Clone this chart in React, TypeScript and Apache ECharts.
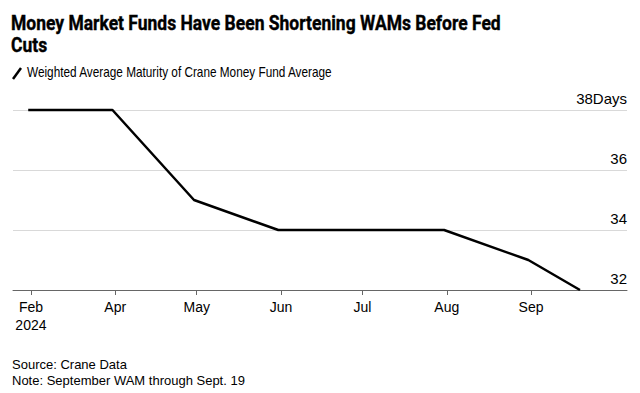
import React, { useEffect, useRef } from "react";
import * as echarts from "echarts";

const dates = ["2024-02-29", "2024-03-31", "2024-04-30", "2024-05-31", "2024-06-30", "2024-07-31", "2024-08-31", "2024-09-19"];
const values = [38, 38, 35, 34, 34, 34, 33, 32];
const tickDates = ["2024-03-01", "2024-04-01", "2024-05-01", "2024-06-01", "2024-07-01", "2024-08-01", "2024-09-01"];
const tickLabels = ["Feb\n2024", "Apr", "May", "Jun", "Jul", "Aug", "Sep"];
const yTicks = [32, 34, 36, 38];

const titleLines = ["Money Market Funds Have Been Shortening WAMs Before Fed", "Cuts"];
const subtitleText = "Weighted Average Maturity of Crane Money Fund Average";
const sourceText = "Source: Crane Data";
const noteText = "Note: September WAM through Sept. 19";

const FONT = "'Liberation Sans', Arial, sans-serif";
const TFONT = "Roboto, 'Liberation Sans', sans-serif";

function ts(s: string): number {
  const [y, m, d] = s.split("-").map(Number);
  return Date.UTC(y, m - 1, d);
}

function measure(text: string, font: string): number {
  const c = document.createElement("canvas").getContext("2d");
  if (!c) return 1;
  c.font = font;
  return c.measureText(text).width || 1;
}

export default function App() {
  const ref = useRef<HTMLDivElement>(null);
  useEffect(() => {
    if (!ref.current) return;
    const chart = echarts.init(ref.current, null, { renderer: "svg" });
    const tickTimes = tickDates.map(ts);
    const day = 86400000;
    const xMin = tickTimes[0] - 6.6 * day;
    const xMax = tickTimes[tickTimes.length - 1] + 35.3 * day;
    const labelFor = (v: number) => {
      let best = 0;
      for (let i = 1; i < tickTimes.length; i++) {
        if (Math.abs(tickTimes[i] - v) < Math.abs(tickTimes[best] - v)) best = i;
      }
      return tickLabels[best];
    };
    const titleFont = `bold 21px ${TFONT}`;
    const subFont = `15px ${FONT}`;
    const titleScale = Math.min(1, 490 / measure(titleLines[0], titleFont));
    const subScale = Math.min(1, 306 / measure(subtitleText, subFont));
    chart.setOption({
      animation: false,
      textStyle: { fontFamily: FONT },
      grid: { left: 13, right: 13, top: 110, bottom: 103, containLabel: false },
      graphic: [
        {
          type: "text",
          x: 11,
          y: 12,
          scaleX: titleScale,
          style: {
            text: titleLines.join("\n"),
            font: titleFont,
            fill: "#000",
            stroke: "#000",
            lineWidth: 0.4,
            lineHeight: 22,
            align: "left",
            verticalAlign: "top",
          },
        },
        {
          type: "line",
          shape: { x1: 13, y1: 79, x2: 21, y2: 68 },
          style: { stroke: "#000", lineWidth: 2.5 },
        },
        {
          type: "text",
          x: 27,
          y: 64,
          scaleX: subScale,
          style: { text: subtitleText, font: subFont, fill: "#000", align: "left", verticalAlign: "top" },
        },
        {
          type: "text",
          left: 12,
          top: 358,
          style: { text: sourceText, font: `13px ${FONT}`, fill: "#000" },
        },
        {
          type: "text",
          left: 12,
          top: 374,
          style: { text: noteText, font: `13px ${FONT}`, fill: "#000" },
        },
      ],
      xAxis: {
        type: "value",
        min: xMin,
        max: xMax,
        axisLine: { show: true, lineStyle: { color: "#666", width: 1 } },
        axisTick: { show: true, customValues: tickTimes, length: 5, lineStyle: { color: "#666" } },
        axisLabel: {
          customValues: tickTimes,
          formatter: (v: number) => labelFor(v),
          color: "#000",
          fontSize: 14,
          lineHeight: 18,
          margin: 8,
          fontFamily: FONT,
          showMinLabel: true,
          showMaxLabel: true,
        },
        splitLine: { show: false },
      },
      yAxis: {
        type: "value",
        position: "right",
        min: yTicks[0],
        max: yTicks[yTicks.length - 1],
        interval: 2,
        axisLine: { show: false },
        axisTick: { show: false },
        splitLine: { show: true, lineStyle: { color: "#d9d9d9", width: 1 } },
        axisLabel: {
          inside: true,
          margin: 0,
          verticalAlign: "bottom",
          padding: [0, 0, 4, 0],
          color: "#000",
          fontSize: 15,
          fontFamily: FONT,
          formatter: (v: number) => (v === yTicks[yTicks.length - 1] ? `${v}Days` : `${v}`),
        },
      },
      series: [
        {
          type: "line",
          data: dates.map((d, i) => [ts(d), values[i]]),
          showSymbol: false,
          lineStyle: { color: "#000", width: 2.5 },
          clip: false,
        },
      ],
    });
    return () => chart.dispose();
  }, []);
  return (
    <div
      ref={ref}
      style={{ position: "fixed", left: 0, top: 0, width: 640, height: 393, background: "#fff" }}
    />
  );
}
